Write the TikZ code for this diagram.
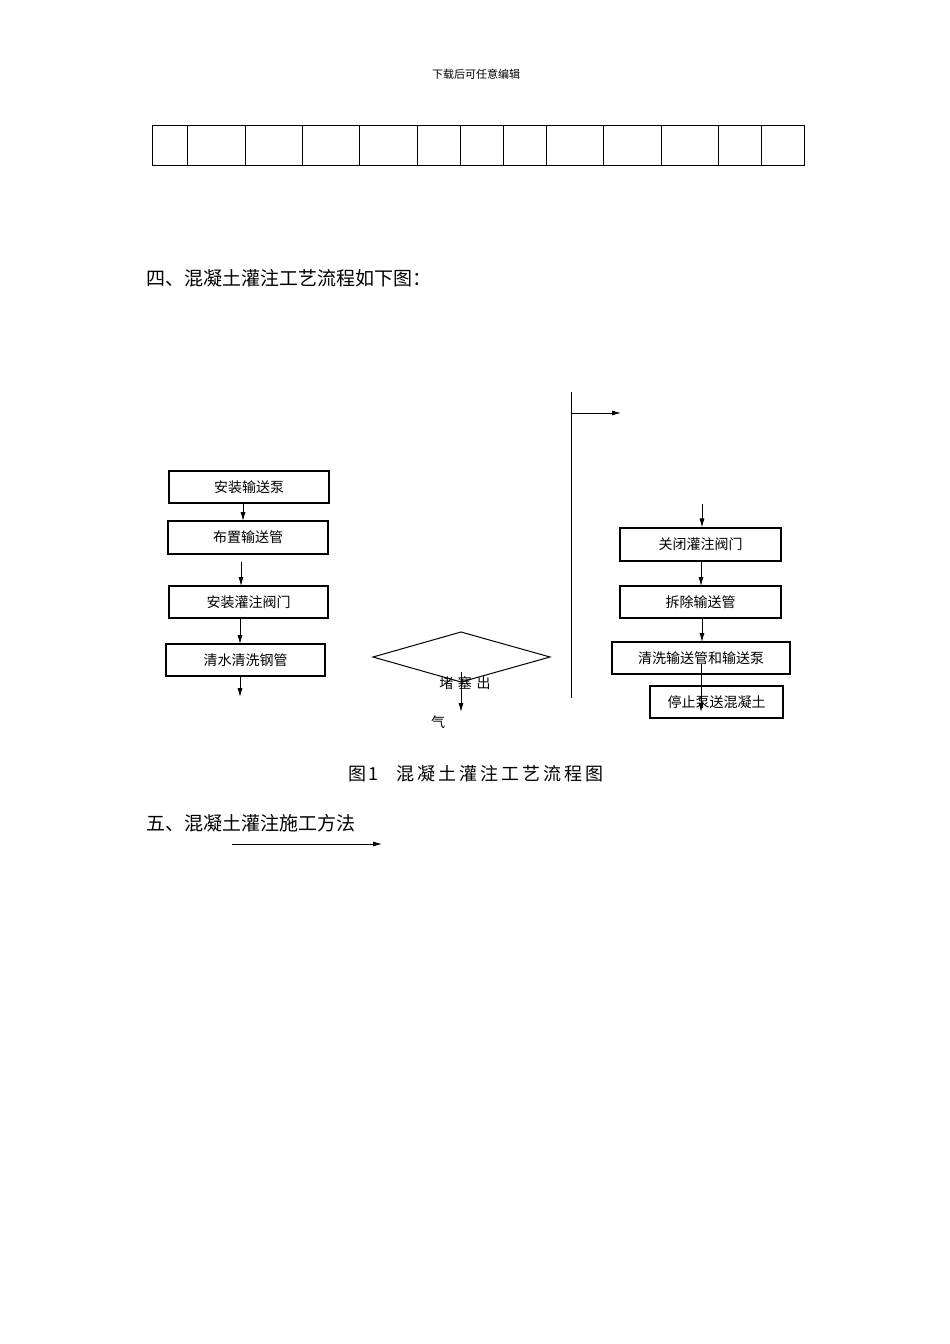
\documentclass[tikz,border=0pt]{standalone}
\usepackage{fontspec}
\setmainfont{Noto Sans CJK SC}
\newfontfamily\cjkb[AutoFakeBold=3]{Noto Sans CJK SC}
\begin{document}
\begin{tikzpicture}[x=1pt,y=-1pt,
  bx/.style={draw,line width=1.1pt,inner sep=0pt,font=\fontsize{14}{14}\selectfont},
  ar/.style={-{Latex[length=9pt,width=5pt]},line width=0.8pt},
  cell/.style={draw,line width=1pt}]
\usetikzlibrary{arrows.meta}
\useasboundingbox (0,0) rectangle (950,1344);
\node[font=\fontsize{11}{11}\selectfont] (hdr) at (476,74) {下载后可任意编辑};
\foreach \a/\b in {152/187,187/245,245/302,302/359,359/417,417/460,460/503,503/546,546/603,603/661,661/718,718/761,761/804}
  \draw[cell] (\a,125) rectangle (\b,165);
\node[anchor=west,font=\cjkb\fontsize{19}{19}\selectfont] (h4) at (143,278) {四、混凝土灌注工艺流程如下图：};
% left column
\node[bx,minimum width=160pt,minimum height=32pt] (b1) at (249,487) {安装输送泵};
\node[bx,minimum width=160pt,minimum height=33pt] (b2) at (248,537.5) {布置输送管};
\node[bx,minimum width=159pt,minimum height=32pt] (b3) at (248.5,602) {安装灌注阀门};
\node[bx,minimum width=159pt,minimum height=32pt] (b4) at (245.5,660) {清水清洗钢管};
\draw[ar] (243,503) -- (243,521);
\coordinate (l2a) at (241,562); \coordinate (l2b) at (241,586);
\draw[ar] (l2a) -- (l2b);
\draw[ar] (240,618) -- (240,644);
\coordinate (l4) at (240,697);
\draw[ar] (b4.south -| l4) -- (l4);
% diamond
\draw[line width=1pt] (373,657) -- (461,632) -- (550,657) -- (461,682) -- cycle;
\node[font=\fontsize{14}{14}\selectfont] (d1) at (465,683) {堵\,\,塞\,\,出};
\node[font=\fontsize{14}{14}\selectfont] (d2) at (438,722) {气};
\draw[ar] (461,672) -- (461,712);
% vertical line
\draw[line width=1pt] (571,392) -- (571,698);
\draw[ar] (571,413) -- (621,413);
% right column
\node[bx,minimum width=161pt,minimum height=33pt] (r1) at (700.5,544.5) {关闭灌注阀门};
\node[bx,minimum width=161pt,minimum height=32pt] (r2) at (700.5,602) {拆除输送管};
\node[bx,minimum width=178pt,minimum height=32pt] (r3) at (701,658) {清洗输送管和输送泵};
\node[bx,minimum width=133pt,minimum height=32pt] (r4) at (716.5,702) {停止泵送混凝土};
\draw[ar] (702,504) -- (r1.north -| 702,0);
\draw[ar] (701,561) -- (701,586);
\draw[ar] (702,618) -- (702,642);
\draw[ar] (701,664) -- (701,712);
\node[font=\fontsize{18}{18}\selectfont] (cap) at (476,774) {图\,1\quad 混\,凝\,土\,灌\,注\,工\,艺\,流\,程\,图};
\node[anchor=west,font=\cjkb\fontsize{19}{19}\selectfont] (h5) at (143,823) {五、混凝土灌注施工方法};
\draw[ar] (232,844) -- (382,844);
\end{tikzpicture}
\end{document}
